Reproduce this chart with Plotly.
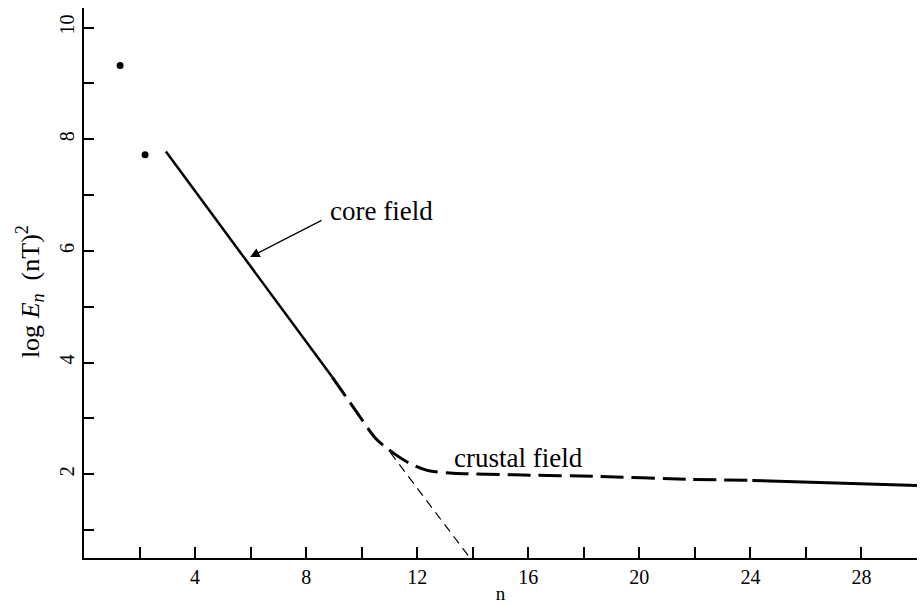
import plotly.graph_objects as go

# ---- data ----
dot_n = [1.3, 2.2]
dot_logE = [9.32, 7.72]

core_n = [2.95, 8.94]
core_logE = [7.78, 3.74]

trans_n = [8.94, 9.77, 10.49, 10.95, 11.64, 12.36, 13.30, 15.5, 18.59, 21.73, 24.07]
trans_logE = [3.74, 3.15, 2.65, 2.45, 2.22, 2.07, 2.02, 1.99, 1.96, 1.91, 1.89]

crust_tail_n = [24.07, 30.0]
crust_tail_logE = [1.89, 1.80]

extrap_n = [11.03, 13.9]
extrap_logE = [2.39, 0.5]

x_ticks = [4, 8, 12, 16, 20, 24, 28]
y_ticks = [2, 4, 6, 8, 10]

SERIF = "Liberation Serif"

fig = go.Figure()
fig.add_trace(go.Scatter(x=dot_n, y=dot_logE, mode="markers",
                         marker=dict(color="black", size=7)))
fig.add_trace(go.Scatter(x=core_n, y=core_logE, mode="lines",
                         line=dict(color="black", width=2.5)))
fig.add_trace(go.Scatter(x=trans_n, y=trans_logE, mode="lines",
                         line=dict(color="black", width=3, dash="23px,8px", shape="spline", smoothing=0.8)))
fig.add_trace(go.Scatter(x=crust_tail_n, y=crust_tail_logE, mode="lines",
                         line=dict(color="black", width=3)))
fig.add_trace(go.Scatter(x=extrap_n, y=extrap_logE, mode="lines",
                         line=dict(color="black", width=1.2, dash="9px,6px")))

fig.add_annotation(x=5.98, y=5.89, ax=8.61, ay=6.56, axref="x", ayref="y",
                   xref="x", yref="y", text="", showarrow=True,
                   arrowhead=2, arrowsize=1.6, arrowwidth=1.2, arrowcolor="black")
fig.add_annotation(x=10.70, y=6.72, text="core field", showarrow=False,
                   font=dict(family=SERIF, size=27, color="black"))
fig.add_annotation(x=15.64, y=2.29, text="crustal field", showarrow=False,
                   font=dict(family=SERIF, size=27, color="black"))
fig.add_annotation(x=-0.065, y=0.485, xref="paper", yref="paper",
                   text="log <i>E<sub>n</sub></i>  (nT)<sup>2</sup>", showarrow=False,
                   textangle=-90, xanchor="center", yanchor="middle",
                   font=dict(family=SERIF, size=26, color="black"))

fig.update_layout(
    width=921, height=606,
    margin=dict(l=84, r=4, t=8, b=48),
    paper_bgcolor="white", plot_bgcolor="white",
    showlegend=False,
    font=dict(family=SERIF, color="black"),
)
fig.update_xaxes(range=[0, 30], tickvals=x_ticks,
                 ticks="inside", ticklen=11, tickwidth=1.5, tickcolor="black",
                 minor=dict(ticks="inside", tick0=0, dtick=2, ticklen=11, tickwidth=1.5,
                            tickcolor="black", showgrid=False),
                 showline=True, linecolor="black", linewidth=2,
                 showgrid=False, zeroline=False,
                 tickfont=dict(family=SERIF, size=20),
                 title=dict(text="n", font=dict(family=SERIF, size=19), standoff=0))
fig.update_yaxes(range=[0.5, 10.35], tickvals=y_ticks,
                 ticks="inside", ticklen=10, tickwidth=1.5, tickcolor="black",
                 minor=dict(ticks="inside", tick0=0, dtick=1, ticklen=10, tickwidth=1.5,
                            tickcolor="black", showgrid=False),
                 showline=True, linecolor="black", linewidth=2,
                 showgrid=False, zeroline=False, tickangle=-90,
                 tickfont=dict(family=SERIF, size=20))

fig.write_html("out.html")
